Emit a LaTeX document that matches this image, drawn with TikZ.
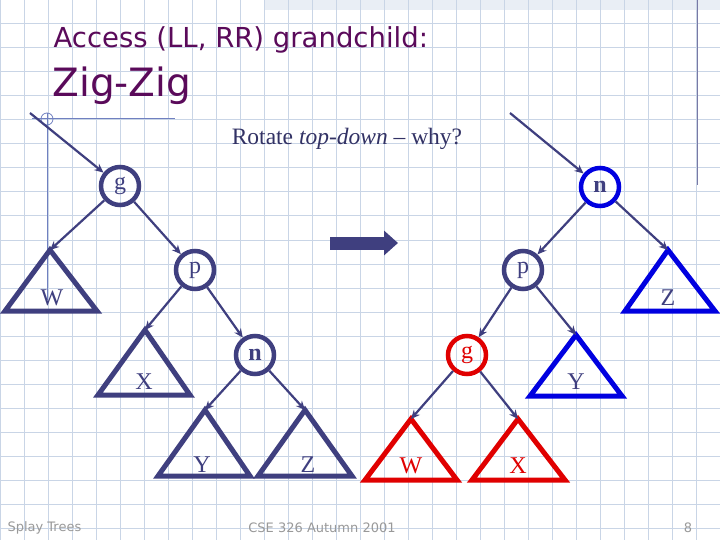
\documentclass[tikz,border=0pt]{standalone}
\usepackage{fontspec}
\setmainfont{Liberation Serif}
\newfontfamily\tahoma{DejaVu Sans}
\usetikzlibrary{arrows.meta}
\definecolor{grid}{HTML}{C9D5E6}
\definecolor{navy}{HTML}{3F3F7F}
\definecolor{ttl}{HTML}{5A0A5A}
\definecolor{bblue}{HTML}{0000E0}
\definecolor{rred}{HTML}{E00000}
\definecolor{deco}{HTML}{7080C0}
\tikzset{
  circ/.style={circle,draw=navy,line width=4.5pt,minimum size=38pt,inner sep=0pt,font=\fontsize{24}{24}\selectfont,text=navy},
  tri/.style={draw=navy,line width=5pt,line join=miter},
  lab/.style={font=\fontsize{24}{24}\selectfont,text=navy},
  edge/.style={draw=navy,line width=2.2pt,-{Stealth[length=9pt,width=8pt]}},
  foot/.style={font=\tahoma\fontsize{13}{13}\selectfont,text=gray!80}
}
\begin{document}
\begin{tikzpicture}[x=1pt,y=-1pt]
\useasboundingbox (0,0) rectangle (720,540);
\fill[white] (0,0) rectangle (720,540);
\fill[grid!40] (265,0) rectangle (720,10);
\foreach \i in {0,24,...,720} \draw[grid,line width=1pt] (\i,0) -- (\i,540);
\foreach \j in {0,24,...,540} \draw[grid,line width=1pt] (0,\j) -- (720,\j);
\draw[navy!70,line width=1pt] (697,0) -- (697,185);
% title
\node[anchor=west,text=ttl,font=\tahoma\fontsize{27.5}{27.5}\selectfont] (t1) at (50,40) {Access (LL, RR) grandchild:};
\node[anchor=west,text=ttl,font=\tahoma\fontsize{39}{39}\selectfont] (t2) at (49,86) {Zig-Zig};
\draw[deco,line width=1pt] (32,119) -- (175,119);
\draw[deco,line width=1pt] (47,113) -- (47,300);
\draw[deco,line width=0.8pt] (47,119) circle (6);
\node[font=\fontsize{23.5}{23.5}\selectfont,text=navy!80!black] (rot) at (347,139) {Rotate \textit{top-down} -- why?};
% left tree
\coordinate (lin) at (30,113);
\node[circ] (g1) at (120,186) {g};
\node[circ] (p1) at (195,270) {p};
\node[circ] (n1) at (255,355) {\textbf{n}};
\draw[tri] (50,250) -- (97,311) -- (5,311) -- cycle;
\node[lab] (W1) at (52,298) {W};
\draw[tri] (145,330) -- (190,395) -- (98,395) -- cycle;
\node[lab] (X1) at (144,382) {X};
\draw[tri] (205,410) -- (250,476) -- (158,476) -- cycle;
\node[lab] (Y1) at (202,465) {Y};
\draw[tri] (305,410) -- (352,476) -- (258,476) -- cycle;
\node[lab] (Z1) at (308,465) {Z};
\coordinate (aW1) at (50,250);
\coordinate (aX1) at (145,330);
\coordinate (aY1) at (205,410);
\coordinate (aZ1) at (305,410);
\draw[edge] (lin) -- (g1);
\draw[edge] (g1) -- (aW1);
\draw[edge] (g1) -- (p1);
\draw[edge] (p1) -- (aX1);
\draw[edge] (p1) -- (n1);
\draw[edge] (n1) -- (aY1);
\draw[edge] (n1) -- (aZ1);
% big arrow
\coordinate (ba) at (330,243);
\coordinate (bb) at (398,243);
\draw[navy,line width=13pt,-{Triangle[length=14pt,width=24pt]}] (ba) -- (bb);
% right tree
\coordinate (rin) at (510,113);
\node[circ,draw=bblue,text=navy] (n2) at (600,187) {\textbf{n}};
\node[circ] (p2) at (523,270) {p};
\node[circ,draw=rred,text=rred] (g2) at (467,355) {g};
\draw[tri,draw=bblue] (668,250) -- (715,311) -- (625,311) -- cycle;
\node[lab] (Z2) at (668,298) {Z};
\draw[tri,draw=bblue] (576,335) -- (622,396) -- (530,396) -- cycle;
\node[lab] (Y2) at (576,382) {Y};
\draw[tri,draw=rred] (411,419) -- (457,480) -- (365,480) -- cycle;
\node[lab,text=rred] (W2) at (411,466) {W};
\draw[tri,draw=rred] (518,419) -- (565,480) -- (472,480) -- cycle;
\node[lab,text=rred] (X2) at (518,466) {X};
\coordinate (aZ2) at (668,250);
\coordinate (aY2) at (576,335);
\coordinate (aW2) at (411,419);
\coordinate (aX2) at (518,419);
\draw[edge] (rin) -- (n2);
\draw[edge] (n2) -- (p2);
\draw[edge] (n2) -- (aZ2);
\draw[edge] (p2) -- (g2);
\draw[edge] (p2) -- (aY2);
\draw[edge] (g2) -- (aW2);
\draw[edge] (g2) -- (aX2);
% footer
\node[foot,anchor=west] (f1) at (4,528) {Splay Trees};
\node[foot] (f2) at (322,528) {CSE 326 Autumn 2001};
\node[foot] (f3) at (688,528) {8};
\end{tikzpicture}
\end{document}
